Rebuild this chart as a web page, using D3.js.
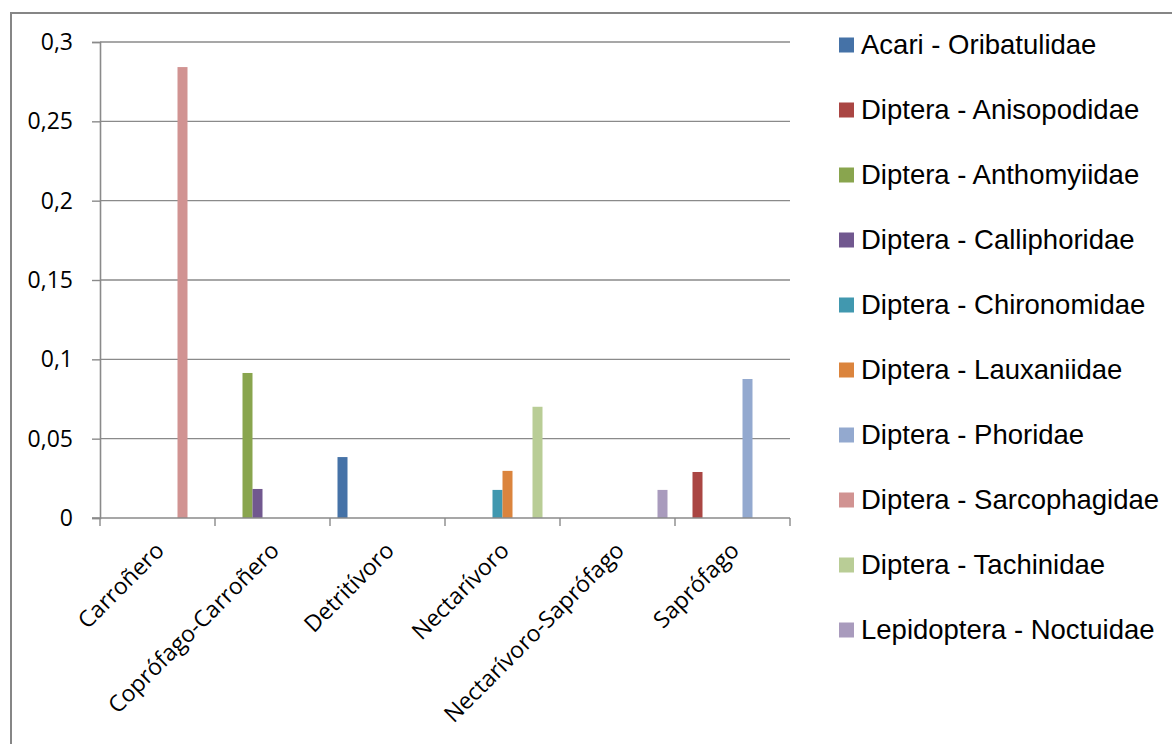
<!DOCTYPE html>
<html>
<head>
<meta charset="utf-8">
<script src="https://cdn.jsdelivr.net/npm/d3@7"></script>
<style>
  body { margin: 0; background: #fff; }
  svg { display: block; }
</style>
</head>
<body>
<script>
// categories on the x axis
var categories = ["Carroñero", "Coprófago-Carroñero", "Detritívoro", "Nectarívoro", "Nectarívoro-Saprófago", "Saprófago"];

// series (legend order)
var seriesNames = [
  "Acari - Oribatulidae",
  "Diptera - Anisopodidae",
  "Diptera - Anthomyiidae",
  "Diptera - Calliphoridae",
  "Diptera - Chironomidae",
  "Diptera - Lauxaniidae",
  "Diptera - Phoridae",
  "Diptera - Sarcophagidae",
  "Diptera - Tachinidae",
  "Lepidoptera - Noctuidae"
];

// one value per category for each series (0 = no bar)
var acari          = [0, 0, 0.0384, 0, 0, 0];
var anisopodidae   = [0, 0, 0, 0, 0, 0.0290];
var anthomyiidae   = [0, 0.0914, 0, 0, 0, 0];
var calliphoridae  = [0, 0.0183, 0, 0, 0, 0];
var chironomidae   = [0, 0, 0, 0.0177, 0, 0];
var lauxaniidae    = [0, 0, 0, 0.0297, 0, 0];
var phoridae       = [0, 0, 0, 0, 0, 0.0876];
var sarcophagidae  = [0.2842, 0, 0, 0, 0, 0];
var tachinidae     = [0, 0, 0, 0.0701, 0, 0];
var noctuidae      = [0, 0, 0, 0, 0.0177, 0];

var seriesValues = [acari, anisopodidae, anthomyiidae, calliphoridae, chironomidae,
                    lauxaniidae, phoridae, sarcophagidae, tachinidae, noctuidae];

var colors = ["#4572A7", "#AA4643", "#89A54E", "#71588F", "#4198AF",
              "#DB843D", "#93A9CF", "#D19392", "#B9CD96", "#A99BBD"];

var yTicks = [0, 0.05, 0.1, 0.15, 0.2, 0.25, 0.3];

var w = 1172, h = 744;
var plot = {left: 100, right: 790, top: 42, bottom: 518};
var axisFont = "'Open Sans', sans-serif";
var legendFont = "'Liberation Sans', sans-serif";

var svg = d3.select("body").append("svg")
  .attr("width", w)
  .attr("height", h);

// outer chart border (runs off the right and bottom edges)
svg.append("rect")
  .attr("x", 11).attr("y", 13)
  .attr("width", 1300).attr("height", 900)
  .attr("fill", "#fff")
  .attr("stroke", "#868686")
  .attr("stroke-width", 2);

var x0 = d3.scaleBand()
  .domain(categories)
  .range([plot.left, plot.right])
  .paddingInner(0).paddingOuter(0);

var x1 = d3.scaleBand()
  .domain(d3.range(seriesNames.length))
  .range([0, x0.bandwidth()])
  .paddingInner(0)
  .paddingOuter(0.75); // gap width 150%

var y = d3.scaleLinear()
  .domain([0, 0.3])
  .range([plot.bottom, plot.top]);

var gridColor = "#8a8a8a";

// gridlines
svg.append("g").selectAll("line")
  .data(yTicks.filter(function(d){ return d > 0; }))
  .enter().append("line")
  .attr("x1", plot.left).attr("x2", plot.right)
  .attr("y1", function(d){ return y(d); })
  .attr("y2", function(d){ return y(d); })
  .attr("stroke", gridColor)
  .attr("stroke-width", 1.4);

// bars
var barData = [];
seriesValues.forEach(function(vals, s){
  vals.forEach(function(v, c){
    if (v > 0) barData.push({s: s, cat: categories[c], value: v});
  });
});

svg.append("g").selectAll("rect")
  .data(barData)
  .enter().append("rect")
  .attr("x", function(d){ return x0(d.cat) + x1(d.s); })
  .attr("y", function(d){ return y(d.value); })
  .attr("width", x1.bandwidth())
  .attr("height", function(d){ return y(0) - y(d.value); })
  .attr("fill", function(d){ return colors[d.s]; });

// y axis
var yAxis = d3.axisLeft(y)
  .tickValues(yTicks)
  .tickSize(8)
  .tickPadding(19)
  .tickFormat(function(d){ return String(d).replace(".", ","); });

var gy = svg.append("g")
  .attr("transform", "translate(" + plot.left + ",0)")
  .call(yAxis);
gy.attr("font-family", axisFont).attr("font-size", 23);
gy.select(".domain").attr("stroke", gridColor).attr("stroke-width", 1.6);
gy.selectAll(".tick line").attr("stroke", gridColor).attr("stroke-width", 1.4);
gy.selectAll(".tick text").attr("fill", "#000");

// x axis line and ticks at category boundaries
var bounds = categories.map(function(c){ return x0(c); }).concat([plot.right]);
var gx = svg.append("g")
  .attr("font-family", axisFont)
  .attr("font-size", 23);
gx.append("line")
  .attr("x1", plot.left - 8).attr("x2", plot.right)
  .attr("y1", plot.bottom).attr("y2", plot.bottom)
  .attr("stroke", gridColor).attr("stroke-width", 1.6);
gx.selectAll(".xt")
  .data(bounds)
  .enter().append("line")
  .attr("x1", function(d){ return d; }).attr("x2", function(d){ return d; })
  .attr("y1", plot.bottom).attr("y2", plot.bottom + 8)
  .attr("stroke", gridColor).attr("stroke-width", 1.4);

gx.selectAll(".xl")
  .data(categories)
  .enter().append("text")
  .attr("transform", function(d){
    var cx = x0(d) + x0.bandwidth() / 2;
    return "translate(" + (cx + 8) + "," + (plot.bottom + 34) + ") rotate(-45)";
  })
  .attr("text-anchor", "end")
  .attr("fill", "#000")
  .text(function(d){ return d; });

// legend
var legend = svg.append("g")
  .attr("font-family", legendFont)
  .attr("font-size", 27.5)
  .selectAll("g")
  .data(seriesNames)
  .enter().append("g")
  .attr("transform", function(d, i){ return "translate(839," + (45 + i * 65) + ")"; });

legend.append("rect")
  .attr("x", 0).attr("y", -7.5)
  .attr("width", 15).attr("height", 15)
  .attr("fill", function(d, i){ return colors[i]; });

legend.append("text")
  .attr("x", 22).attr("y", 9)
  .attr("fill", "#000")
  .text(function(d){ return d; });
</script>
</body>
</html>
